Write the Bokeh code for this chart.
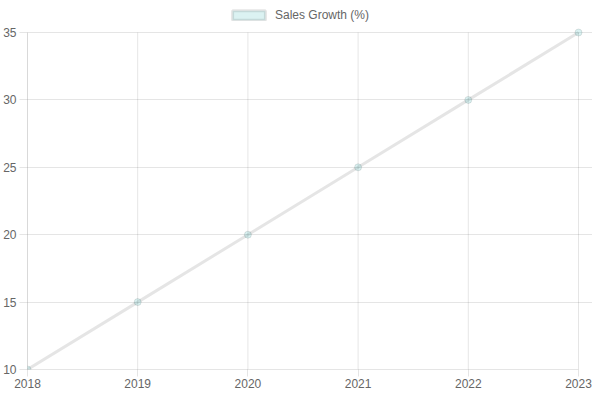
from bokeh.plotting import figure
from bokeh.models import Range1d, FixedTicker, Legend, LegendItem
from bokeh.embed import file_html
from bokeh.resources import INLINE

years = [2018, 2019, 2020, 2021, 2022, 2023]
growth = [10, 15, 20, 25, 30, 35]
y_ticks = [10, 15, 20, 25, 30, 35]
series_name = "Sales Growth (%)"

FONT = "Liberation Sans"
TEXT = "#666666"

# ranges run a little past the data so the end markers and the legend are not clipped;
# axes and grid lines are kept to the real extent
p = figure(width=592, height=392, output_backend="svg", toolbar_location=None,
           x_range=Range1d(2018, 2023.127), y_range=Range1d(10, 37.374),
           min_border_left=27, min_border_right=0,
           min_border_top=0, min_border_bottom=23)
p.outline_line_color = None

for ax in (p.xaxis, p.yaxis):
    ax.axis_line_color = "black"
    ax.axis_line_alpha = 0.1
    ax.major_tick_line_color = "black"
    ax.major_tick_line_alpha = 0.1
    ax.major_tick_in = 0
    ax.major_tick_out = 8
    ax.minor_tick_line_color = None
    ax.major_label_text_font = FONT
    ax.major_label_text_font_size = "12px"
    ax.major_label_text_color = TEXT
    ax.major_label_standoff = 3
p.xaxis.major_tick_out = 7
p.xaxis.major_label_standoff = 2
p.xaxis.ticker = FixedTicker(ticks=years)
p.yaxis.ticker = FixedTicker(ticks=y_ticks)
p.xaxis.bounds = (years[0], years[-1])
p.yaxis.bounds = (y_ticks[0], y_ticks[-1])
p.xgrid.grid_line_color = None
p.ygrid.grid_line_color = "black"
p.ygrid.grid_line_alpha = 0.1
p.ygrid.ticker = FixedTicker(ticks=y_ticks)
p.ygrid.bounds = (years[0], years[-1])

# vertical grid lines, stopped at the top tick
p.segment(x0=years, x1=years, y0=[y_ticks[0]] * len(years), y1=[y_ticks[-1]] * len(years),
          line_color="black", line_alpha=0.1, line_width=1)

p.line(years, growth, line_color="black", line_alpha=0.1, line_width=3)
p.scatter(years, growth, size=7, fill_color=(75, 192, 192), fill_alpha=0.2,
          line_color="black", line_alpha=0.1, line_width=1)

# hidden renderer that only gives the legend its box swatch
box = p.quad(left=years, right=years, top=growth, bottom=growth,
             fill_color=(75, 192, 192), fill_alpha=0.2,
             line_color="black", line_alpha=0.1, line_width=3)
box.visible = False

legend = Legend(items=[LegendItem(label=series_name, renderers=[box])],
                location=(201, 347), orientation="horizontal",
                glyph_width=41, glyph_height=12, label_height=12,
                label_standoff=6, padding=0, margin=0, spacing=0,
                border_line_color=None, background_fill_alpha=0,
                inactive_fill_alpha=0,
                label_text_font=FONT, label_text_font_size="12px",
                label_text_color=TEXT)
p.add_layout(legend)

open("out.html", "w").write(file_html(p, INLINE))
